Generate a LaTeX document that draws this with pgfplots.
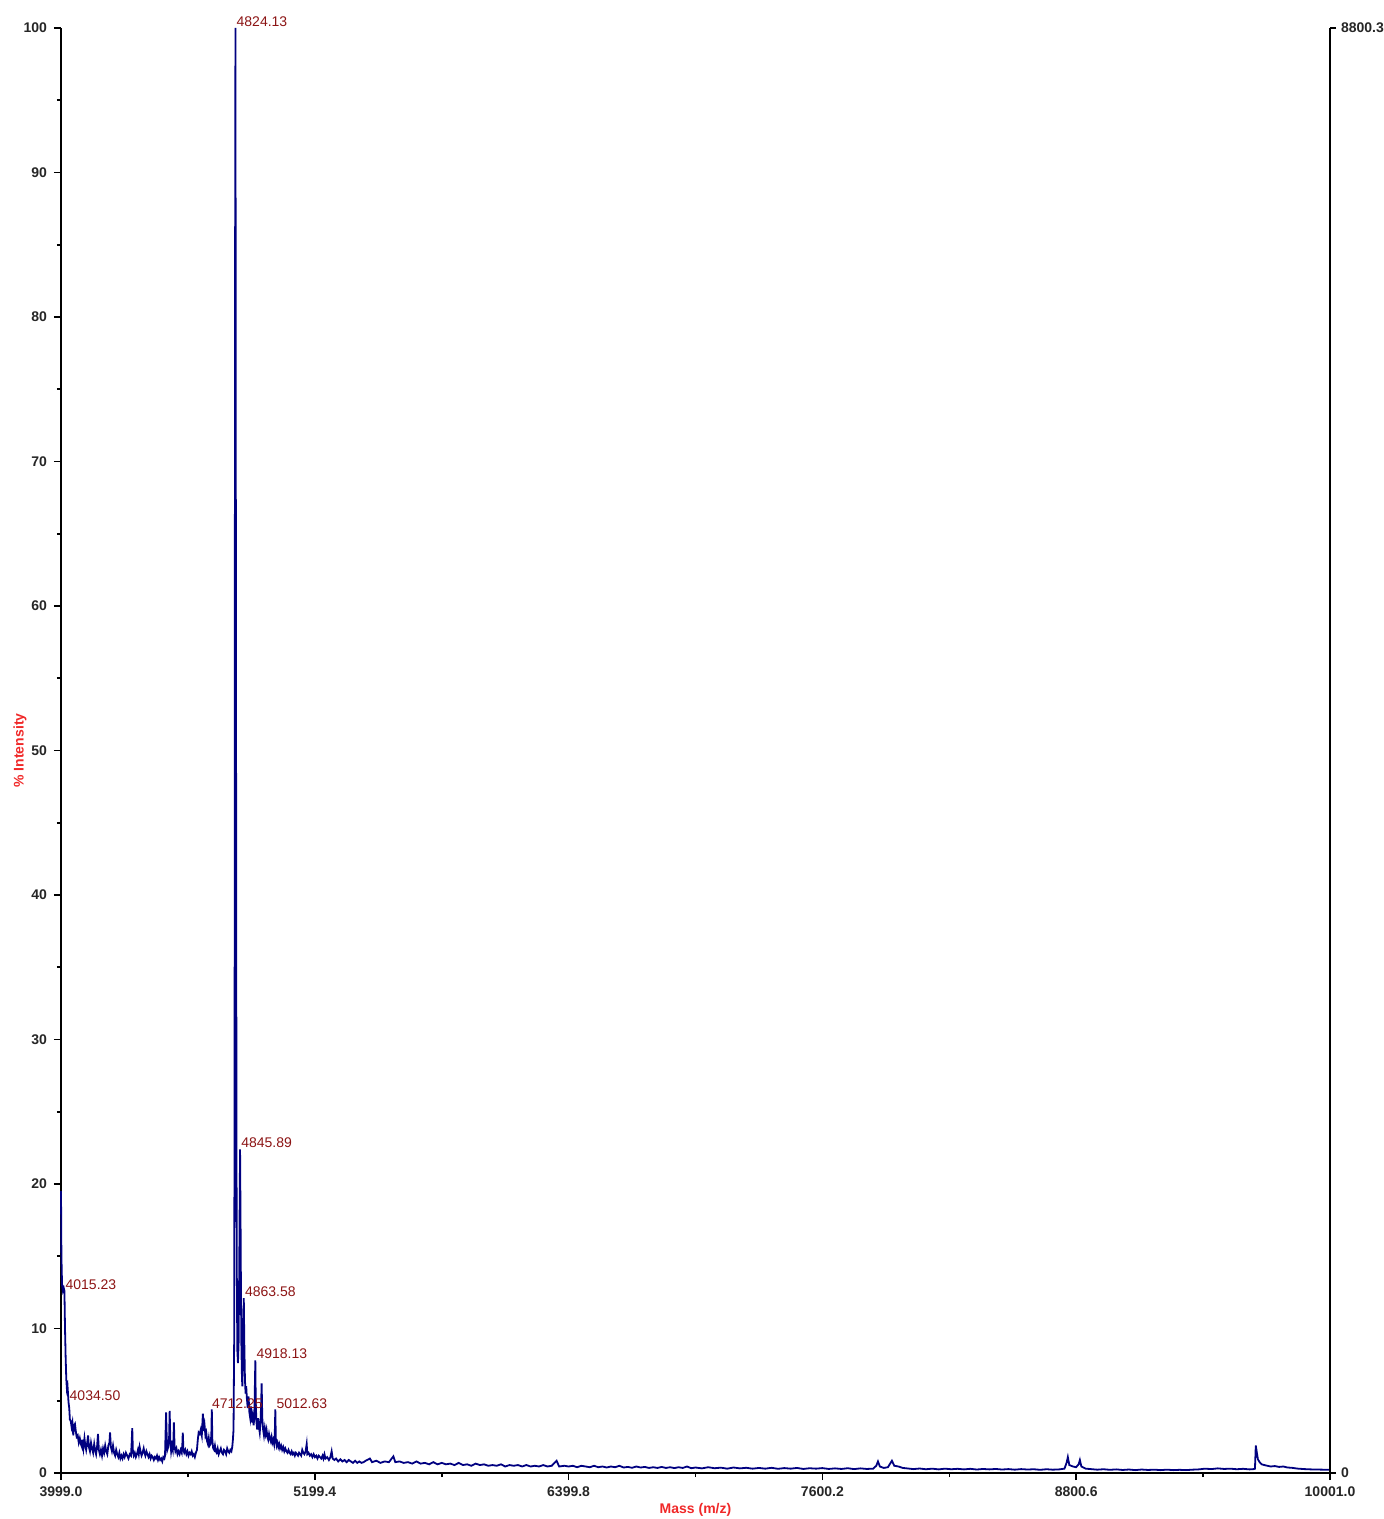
\documentclass[border=0pt]{standalone}
\usepackage{fontspec}
\setmainfont{Liberation Sans}
\usepackage{pgfplots}
\pgfplotsset{compat=1.18}

\definecolor{specblue}{RGB}{0,0,128}
\definecolor{labred}{RGB}{240,40,40}
\definecolor{peakred}{RGB}{140,20,20}

\pgfplotstableread{
mz int
3999 19.5
4001 15
4004 13
4008 12.6
4012 12.8
4015.23 12.6
4018 10
4021 8
4024 6.5
4027 5.8
4030 6
4034.5 4.9
4038 4.5
4041 3.7
4045 3.6
4049 3.2
4053 3.5
4057 2.6
4061 3.3
4065 3.4
4069 2.9
4073 2.5
4078 2.6
4083 2.1
4088 2.4
4093 2.0
4098 1.8
4100 2.3
4105 1.7
4110 2.4
4114 1.9
4118 1.6
4122 2.0
4127 2.6
4131 1.8
4136 1.5
4141 2.1
4146 1.7
4151 1.4
4156 2.0
4160 1.6
4165 1.3
4170 1.9
4174 2.7
4178 1.6
4183 1.3
4188 1.6
4193 1.2
4198 1.7
4203 1.4
4208 1.9
4213 1.5
4218 1.3
4223 1.9
4228 2.1
4231 2.8
4235 1.8
4240 1.5
4245 1.9
4250 1.4
4255 1.2
4260 1.6
4265 1.3
4270 1.1
4275 1.4
4280 1.0
4285 1.2
4290 1.0
4295 1.3
4300 1.1
4306 1.4
4312 1.2
4318 1.0
4324 1.3
4330 1.2
4333 2.0
4336 3.1
4339 1.5
4343 1.2
4348 1.4
4353 1.1
4358 1.3
4363 1.6
4367 1.3
4371 1.8
4375 1.5
4380 1.2
4385 1.4
4390 1.7
4394 1.4
4398 1.2
4403 1.5
4408 1.3
4413 1.1
4418 1.3
4423 1.0
4428 1.2
4433 1.1
4438 0.9
4443 1.1
4448 1.0
4453 1.2
4458 0.9
4463 1.1
4468 0.9
4473 1.0
4478 0.8
4483 1.1
4488 1.0
4491 1.2
4494 3.0
4496 4.2
4499 2.5
4502 1.6
4506 1.8
4510 2.2
4513 4.3
4516 2.3
4520 1.5
4524 1.9
4528 1.6
4531 2.4
4533 3.5
4536 1.9
4540 1.5
4545 1.7
4550 1.3
4555 1.5
4560 1.3
4565 1.6
4570 1.4
4573 2.0
4575 2.8
4578 1.6
4582 1.4
4587 1.6
4592 1.3
4597 1.5
4602 1.2
4607 1.4
4612 1.3
4617 1.5
4622 1.2
4627 1.3
4632 1.1
4637 1.4
4642 1.6
4646 2.3
4650 2.8
4655 2.7
4660 3.0
4665 2.6
4670 4.1
4674 2.9
4678 3.3
4682 2.6
4686 2.8
4690 2.2
4694 2.0
4698 2.4
4702 1.9
4706 2.0
4710 2.6
4712.25 4.4
4715 2.2
4719 1.7
4723 1.6
4727 1.9
4731 1.5
4735 1.4
4740 1.7
4745 1.3
4750 1.5
4755 1.7
4760 1.4
4765 1.3
4770 1.6
4775 1.5
4780 1.3
4785 1.7
4790 1.5
4795 1.4
4800 1.6
4805 1.5
4809 1.8
4812 2.3
4815 3.0
4818 9
4820 27
4822 80
4824.13 100
4826 67
4828 35
4830 15
4833 8.5
4836 7.6
4839 9
4842 14
4845.89 22.4
4848 18
4850 13
4852 9
4855 6.5
4857 6.0
4860 9.5
4863.58 12.1
4866 9
4869 6.5
4872 5.5
4875 6.0
4878 5.2
4882 4.5
4886 5.3
4890 4.2
4894 3.8
4898 4.6
4902 3.5
4906 3.9
4910 3.3
4914 4.0
4916 6.0
4918.13 7.8
4920 5.0
4923 3.6
4927 3.0
4931 3.8
4935 3.2
4939 2.8
4943 3.6
4946 5.0
4948 6.2
4951 3.8
4955 3.0
4959 2.6
4963 3.1
4967 2.7
4971 3.0
4975 2.5
4979 2.3
4983 2.7
4987 2.4
4991 2.2
4995 2.5
4999 2.1
5003 2.3
5007 2.0
5010 2.6
5012.63 4.4
5015 2.4
5019 1.9
5023 2.1
5027 1.8
5031 2.0
5035 1.7
5040 1.9
5045 1.6
5050 1.8
5055 1.5
5060 1.7
5065 1.5
5070 1.4
5075 1.6
5080 1.4
5085 1.3
5090 1.5
5095 1.3
5100 1.4
5105 1.2
5110 1.4
5115 1.3
5120 1.2
5125 1.4
5130 1.3
5135 1.2
5140 1.6
5145 1.4
5150 1.3
5156 1.5
5161 2.0
5164 1.3
5170 1.4
5176 1.2
5182 1.3
5188 1.1
5194 1.3
5200 1.1
5206 1.2
5212 1.0
5218 1.2
5224 1.1
5230 1.0
5236 1.2
5240 1.0
5245 1.3
5250 1.0
5258 1.1
5266 0.9
5273 1.1
5279 1.5
5284 1.0
5292 0.9
5300 1.0
5310 0.8
5320 0.95
5330 0.8
5340 0.9
5350 0.75
5360 0.9
5370 0.8
5380 0.7
5390 0.85
5400 0.7
5410 0.8
5420 0.7
5430 0.75
5440 0.85
5460 1.0
5470 0.75
5490 0.85
5510 0.7
5530 0.8
5550 0.75
5571 1.15
5580 0.75
5600 0.8
5620 0.7
5640 0.75
5660 0.65
5680 0.8
5700 0.65
5720 0.7
5740 0.6
5760 0.75
5780 0.6
5800 0.7
5820 0.6
5840 0.65
5860 0.55
5880 0.7
5900 0.55
5920 0.6
5940 0.5
5960 0.65
5980 0.55
6000 0.6
6020 0.5
6040 0.55
6060 0.5
6080 0.6
6100 0.45
6120 0.55
6140 0.5
6160 0.55
6180 0.45
6200 0.55
6220 0.45
6240 0.5
6260 0.45
6280 0.55
6300 0.45
6320 0.5
6343 0.85
6355 0.45
6380 0.5
6400 0.45
6420 0.5
6440 0.4
6460 0.5
6480 0.45
6500 0.4
6520 0.5
6540 0.4
6560 0.45
6580 0.38
6600 0.45
6620 0.4
6640 0.5
6660 0.38
6680 0.42
6700 0.36
6720 0.45
6740 0.38
6760 0.42
6780 0.35
6800 0.4
6820 0.35
6840 0.42
6860 0.35
6880 0.4
6900 0.34
6920 0.4
6940 0.35
6960 0.45
6980 0.33
7000 0.38
7030 0.32
7060 0.4
7090 0.33
7120 0.37
7150 0.3
7180 0.38
7210 0.32
7240 0.36
7270 0.3
7300 0.35
7330 0.3
7360 0.36
7390 0.29
7420 0.34
7450 0.3
7480 0.35
7510 0.28
7540 0.33
7570 0.3
7600 0.34
7630 0.28
7660 0.32
7690 0.28
7720 0.33
7750 0.27
7780 0.32
7810 0.28
7840 0.3
7855 0.5
7863 0.8
7872 0.45
7890 0.35
7910 0.4
7929 0.85
7940 0.5
7960 0.45
7980 0.35
8000 0.32
8030 0.27
8060 0.31
8090 0.26
8120 0.3
8150 0.25
8180 0.3
8210 0.26
8240 0.29
8270 0.25
8300 0.29
8330 0.24
8360 0.28
8390 0.25
8420 0.28
8450 0.24
8480 0.27
8510 0.23
8540 0.27
8570 0.24
8600 0.26
8630 0.22
8660 0.26
8690 0.23
8720 0.25
8745 0.3
8755 0.7
8761 1.1
8768 0.55
8785 0.45
8800 0.4
8812 0.6
8818 0.9
8825 0.45
8845 0.3
8870 0.27
8900 0.23
8930 0.26
8960 0.22
8990 0.25
9020 0.21
9050 0.24
9080 0.2
9110 0.24
9140 0.21
9170 0.23
9200 0.2
9230 0.23
9260 0.2
9290 0.22
9320 0.2
9350 0.23
9380 0.25
9410 0.3
9440 0.27
9470 0.32
9500 0.28
9530 0.3
9560 0.26
9590 0.29
9620 0.25
9640 0.27
9646 0.3
9650 1.9
9655 1.4
9660 0.95
9668 0.75
9678 0.6
9690 0.55
9705 0.5
9720 0.45
9740 0.48
9760 0.42
9780 0.45
9800 0.38
9820 0.36
9850 0.3
9880 0.27
9910 0.25
9940 0.24
9970 0.23
10001 0.22
}\spectrum

\begin{document}
\begin{tikzpicture}
\useasboundingbox (0,0) rectangle (691.5pt,759.5pt);
% main spectrum axis (left and bottom lines)
\begin{axis}[
    at={(30.5pt,23pt)}, anchor=south west,
    scale only axis, width=634.5pt, height=722.5pt,
    xmin=3999, xmax=10001, ymin=0, ymax=100,
    axis x line*=bottom, axis y line*=left,
    axis line style={black, line width=1pt},
    tick align=outside,
    major tick length=3.5pt, minor tick length=2pt,
    every tick/.style={black, line width=0.8pt},
    scaled x ticks=false, scaled y ticks=false,
    xtick={3999,5199.4,6399.8,7600.2,8800.6,10001},
    xticklabels={3999.0,5199.4,6399.8,7600.2,8800.6,10001.0},
    minor xtick={4599.2,5799.6,7000,8200.4,9400.8},
    ytick={0,10,...,100},
    minor ytick={5,15,...,95},
    /pgf/number format/assume math mode=true,
    tick label style={font=\fontsize{7}{8}\selectfont\bfseries, text=black!85},
    xlabel={Mass (m/z)},
    ylabel={\% Intensity},
    every axis x label/.style={at={(axis description cs:0.5,0)}, yshift=-18.5pt, anchor=center, font=\fontsize{7}{8}\selectfont\bfseries, text=labred},
    every axis y label/.style={at={(axis description cs:0,0.5)}, xshift=-20.5pt, rotate=90, anchor=center, font=\fontsize{7}{8}\selectfont\bfseries, text=labred},
    clip=false,
]
\addplot[specblue, line width=0.9pt, no marks, sharp plot] table[x=mz, y=int] {\spectrum};
\begin{scope}[every node/.style={anchor=south west, inner sep=0.4pt, text=peakred, font=\fontsize{7}{8}\selectfont}]
\node at (axis cs:4824.13,100) {4824.13};
\node at (axis cs:4845.89,22.4) {4845.89};
\node at (axis cs:4863.58,12.1) {4863.58};
\node at (axis cs:4918.13,7.8) {4918.13};
\node at (axis cs:5012.63,4.4) {5012.63};
\node at (axis cs:4708,4.4) {4712.25};
\node at (axis cs:4015.23,12.6) {4015.23};
\node at (axis cs:4034.5,4.9) {4034.50};
\end{scope}
\end{axis}
% right-hand intensity axis
\begin{axis}[
    at={(30.5pt,23pt)}, anchor=south west,
    scale only axis, width=634.5pt, height=722.5pt,
    xmin=3999, xmax=10001, ymin=0, ymax=100,
    axis x line=none, axis y line*=right,
    axis line style={black, line width=1pt},
    tick align=outside,
    major tick length=3pt,
    every tick/.style={black, line width=0.8pt},
    scaled x ticks=false, scaled y ticks=false,
    ytick={0,100}, yticklabels={0,8800.3},
    minor ytick={},
    tick label style={font=\fontsize{7}{8}\selectfont\bfseries, text=black!85},
    yticklabel style={xshift=-1pt},
]
\end{axis}
\end{tikzpicture}
\end{document}
